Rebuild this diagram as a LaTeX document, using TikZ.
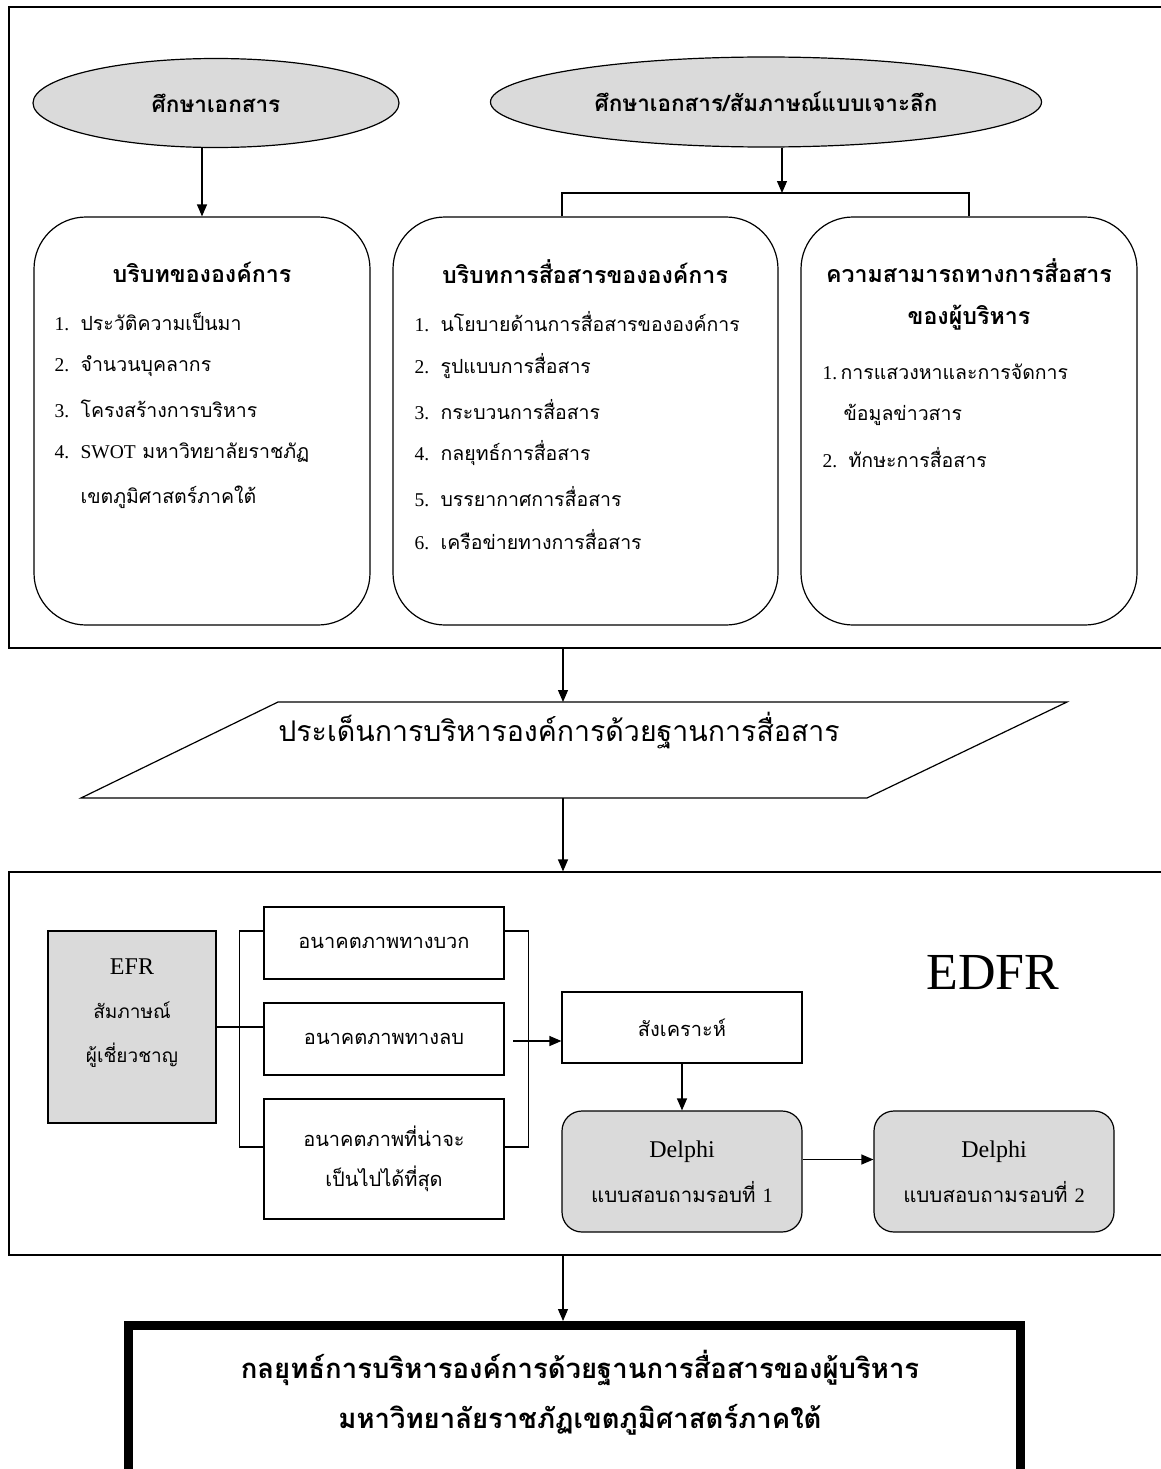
\documentclass[tikz,border=0pt]{standalone}
\usepackage{fontspec}
\setmainfont{Liberation Serif}
\newfontfamily\thaifont[Script=Thai]{Loma}
\usetikzlibrary{arrows.meta,shapes.geometric,positioning}

\begin{document}
\begin{tikzpicture}[x=1pt,y=-1pt,line width=1.2pt,
  >={Triangle[length=12pt,width=10pt]},
  frame/.style={draw, rectangle, inner sep=0pt},
  oval/.style={ellipse, draw, fill=shade, inner sep=0pt, font=\thaifont\bfseries\fontsize{22.5}{26}\selectfont},
  panel/.style={draw, rectangle, rounded corners=52pt, inner sep=0pt, minimum height=408pt},
  heading/.style={inner sep=0pt, align=center, font=\thaifont\bfseries\fontsize{23.2}{42}\selectfont},
  entry/.style={anchor=west, inner sep=0pt, font=\thaifont\fontsize{19.5}{23}\selectfont},
  plainbox/.style={draw, rectangle, inner sep=0pt, align=center, minimum width=240pt, font=\thaifont\fontsize{20}{40}\selectfont},
  delphi/.style={draw, fill=shade, rounded corners=20pt, inner sep=0pt, align=center, minimum width=240pt, minimum height=121pt, font=\thaifont\fontsize{20.5}{45}\selectfont},
  goal/.style={draw, rectangle, line width=7pt, inner sep=0pt}]
  \definecolor{shade}{RGB}{218,218,218}

  \useasboundingbox (0,0) rectangle (1161,1469);
  \clip (0,0) rectangle (1161,1469);

  \node[frame, minimum width=1165pt, minimum height=641pt] (upper) at (591.5,327.5) {};
  \node[oval, minimum width=366pt, minimum height=89pt] (study) at (216,103) {ศึกษาเอกสาร};
  \node[oval, minimum width=551pt, minimum height=90pt] (inquiry) at (766,102) {ศึกษาเอกสาร/สัมภาษณ์แบบเจาะลึก};

  \node[panel, minimum width=336pt] (context) at (202,421) {};
  \node[panel, minimum width=385pt] (channel) at (585.5,421) {};
  \node[panel, minimum width=336pt] (ability) at (969,421) {};

  \node[heading] (contexthead) at (202,272) {บริบทขององค์การ};
  \foreach \num/\txt/\row in {1./ประวัติความเป็นมา/0, 2./จำนวนบุคลากร/1, 3./โครงสร้างการบริหาร/2, 4./{{\rmfamily SWOT} มหาวิทยาลัยราชภัฏ}/3} {
    \node[entry] (context\row) at (54,322+43.6*\row) {\makebox[26pt][l]{\rmfamily\num}\txt};
  }
  \node[entry] (context4) at (80,497) {เขตภูมิศาสตร์ภาคใต้};

  \node[heading] (channelhead) at (585,272) {บริบทการสื่อสารขององค์การ};
  \foreach \num/\txt/\row in {1./นโยบายด้านการสื่อสารขององค์การ/0, 2./รูปแบบการสื่อสาร/1, 3./กระบวนการสื่อสาร/2,
    4./กลยุทธ์การสื่อสาร/3, 5./บรรยากาศการสื่อสาร/4, 6./เครือข่ายทางการสื่อสาร/5} {
    \node[entry] (channel\row) at (414,322+43.6*\row) {\makebox[26pt][l]{\rmfamily\num}\txt};
  }

  \node[heading] (abilityhead) at (969,294) {ความสามารถทางการสื่อสาร\\ของผู้บริหาร};
  \node[entry] (ability0) at (822,372) {\makebox[18pt][l]{\rmfamily 1.}การแสวงหาและการจัดการ};
  \node[entry] (ability1) at (843,415) {ข้อมูลข่าวสาร};
  \node[entry] (ability2) at (822,458) {\makebox[26pt][l]{\rmfamily 2.}ทักษะการสื่อสาร};

  \draw[->] (context.north |- study.south) -- (context.north);
  \coordinate (split) at (782,193);
  \coordinate (barl) at (562,193);
  \draw[->] (split |- inquiry.south) -- (split);
  \draw (barl |- channel.north) -- (barl) -| (ability.north);

  \draw (278,702) -- (1067,702) -- (867,798) -- (81,798) -- cycle;
  \coordinate (issuetop) at (563,702);
  \coordinate (issuebase) at (563,798);
  \node[inner sep=0pt, font=\thaifont\fontsize{28.5}{34}\selectfont] (issue) at (559,731) {ประเด็นการบริหารองค์การด้วยฐานการสื่อสาร};
  \draw[->] (upper.south -| issuetop) -- (issuetop);

  \node[frame, minimum width=1165pt, minimum height=383pt] (edfr) at (591.5,1063.5) {};
  \draw[->] (issuebase) -- (edfr.north -| issuebase);

  \node[frame, fill=shade, minimum width=168pt, minimum height=192pt] (efr) at (132,1027) {};
  \node[inner sep=0pt, align=center, font=\thaifont\fontsize{19}{44}\selectfont] (efrtext) at (132,1013)
    {{\rmfamily\fontsize{24}{44}\selectfont EFR}\\สัมภาษณ์\\ผู้เชี่ยวชาญ};

  \node[plainbox, minimum height=72pt] (good) at (384,943) {อนาคตภาพทางบวก};
  \node[plainbox, minimum height=72pt] (bad) at (384,1039) {อนาคตภาพทางลบ};
  \node[plainbox, minimum height=120pt] (likely) at (384,1159) {อนาคตภาพที่น่าจะ\\เป็นไปได้ที่สุด};

  \draw (efr.east) -- (efr.east -| bad.west);
  \draw ([yshift=12pt]good.west) -- ++(-24,0) |- ([yshift=12pt]likely.west);
  \draw ([yshift=12pt]good.east) -- ++(24,0) |- ([yshift=12pt]likely.east);

  \node[plainbox, minimum height=71pt] (synth) at (682,1027.5) {สังเคราะห์};
  \coordinate (gather) at (513,1041);
  \draw[->] (gather) -- (gather -| synth.west);

  \node[delphi] (round1) at (682,1171.5) {{\rmfamily\fontsize{24}{45}\selectfont Delphi}\\แบบสอบถามรอบที่ {\rmfamily 1}};
  \node[delphi] (round2) at (994,1171.5) {{\rmfamily\fontsize{24}{45}\selectfont Delphi}\\แบบสอบถามรอบที่ {\rmfamily 2}};
  \draw[->] (synth.south) -- (round1.north);
  \draw[->] ([yshift=12pt]round1.east) -- ([yshift=12pt]round2.west);

  \node[inner sep=0pt, font=\rmfamily\fontsize{52}{60}\selectfont] (edfrtitle) at (993,973) {EDFR};

  \node[goal, minimum width=894pt, minimum height=160pt] (plan) at (574.5,1404.5) {};
  \draw ([shift={(8pt,-8pt)}]plan.north west) rectangle ([shift={(-8pt,8pt)}]plan.south east);
  \node[inner sep=0pt, align=center, font=\thaifont\bfseries\fontsize{27.5}{50}\selectfont] (plantext) at (580,1393)
    {กลยุทธ์การบริหารองค์การด้วยฐานการสื่อสารของผู้บริหาร\\มหาวิทยาลัยราชภัฏเขตภูมิศาสตร์ภาคใต้};
  \draw[->] (edfr.south -| issuebase) -- (plan.north -| issuebase);
\end{tikzpicture}
\end{document}
